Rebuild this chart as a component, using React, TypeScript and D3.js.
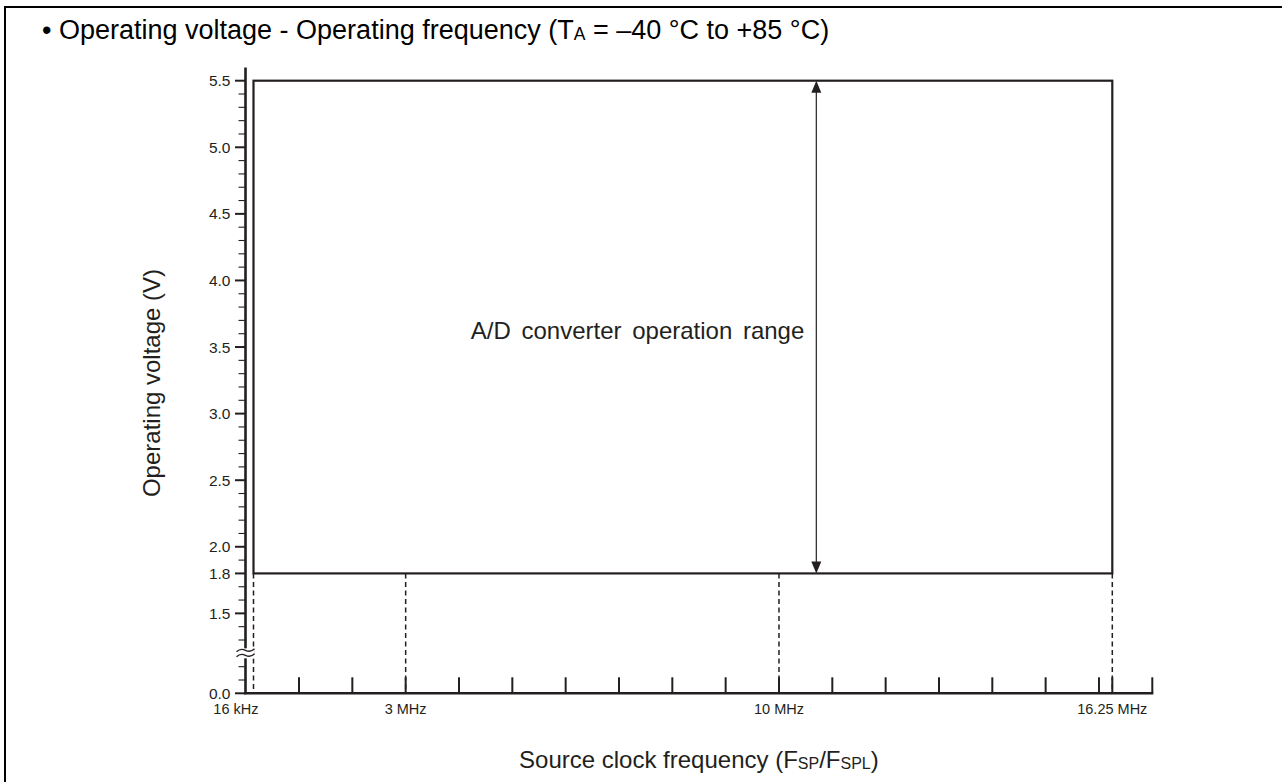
import React from "react";
import * as d3 from "d3";

// ---- data ----
const yMajorTicks = [0.0, 1.5, 1.8, 2.0, 2.5, 3.0, 3.5, 4.0, 4.5, 5.0, 5.5];
const yMinorTicks = [0.1, 0.2, 1.3, 1.4, 1.6, 1.7, 1.9, 2.1, 2.2, 2.3, 2.4, 2.6, 2.7, 2.8, 2.9, 3.1, 3.2, 3.3, 3.4, 3.6, 3.7, 3.8, 3.9, 4.1, 4.2, 4.3, 4.4, 4.6, 4.7, 4.8, 4.9, 5.1, 5.2, 5.3, 5.4];
const xTickValues = [1, 2, 3, 4, 5, 6, 7, 8, 9, 10, 11, 12, 13, 14, 15, 16, 16.25, 17];
const xLabelValues = [0.016, 3, 10, 16.25];
const xLabelTexts = ["16 kHz", "3 MHz", "10 MHz", "16.25 MHz"];
const dashedFreqs = [0.016, 3, 10, 16.25];
const rangeFreqMin = 0.016;
const rangeFreqMax = 16.25;
const rangeVoltMin = 1.8;
const rangeVoltMax = 5.5;
const arrowFreq = 10.7;
const rangeLabelVolt = 3.62;
const yAxisTopValue = 5.6;
const xAxisEndValue = 17;

const INK = "#231f20";
const FONT = "'Liberation Sans', Arial, Helvetica, sans-serif";

export default function App() {
  // broken (piecewise) scales
  const y = d3.scaleLinear().domain([0, 0.2, 1.3, 5.5]).range([693.3, 666.7, 640, 80.7]);
  const x = d3.scaleLinear().domain([0, 0.016, 1, 17]).range([245.5, 253.5, 299, 1152.3]);

  const x0 = x(0);
  const y0 = y(0);
  const breakY = (y(0.2) + y(1.3)) / 2;

  const ax = x(arrowFreq);
  const aTop = y(rangeVoltMax);
  const aBot = y(rangeVoltMin);
  const ah = 12;
  const aw = 5;

  const wave = (yy: number) => `M${x0 - 9},${yy + 1.5} q4,-4 9,-1.5 t9,-1.5`;

  return (
    <svg width={1282} height={782} style={{ position: "absolute", left: 0, top: 0, display: "block", background: "#fff" }}>
      {/* outer frame */}
      <path d="M5,782 V7 H1282" fill="none" stroke="#000" strokeWidth={2} />

      {/* title */}
      <text x={42} y={39} fontFamily={FONT} fontSize={27} fill="#000">
        <tspan>• Operating voltage - Operating frequency (T</tspan>
        <tspan fontSize={17.5} dy={1}>A</tspan>
        <tspan dy={-1}> = –40 °C to +85 °C)</tspan>
      </text>

      {/* dashed verticals */}
      {dashedFreqs.map((f, i) => (
        <line key={"d" + i} x1={x(f)} x2={x(f)} y1={y(rangeVoltMin)} y2={y0}
          stroke={INK} strokeWidth={1.5} strokeDasharray="5,3.5" />
      ))}

      {/* operating range box */}
      <rect x={x(rangeFreqMin)} y={y(rangeVoltMax)} width={x(rangeFreqMax) - x(rangeFreqMin)}
        height={y(rangeVoltMin) - y(rangeVoltMax)} fill="none" stroke={INK} strokeWidth={2.2} />

      {/* y axis */}
      <line x1={x0} x2={x0} y1={y(yAxisTopValue)} y2={y0 + 1} stroke={INK} strokeWidth={2.6} />
      {yMinorTicks.map((v, i) => (
        <line key={"ym" + i} x1={x0 - 7} x2={x0} y1={y(v)} y2={y(v)} stroke={INK} strokeWidth={1.1} />
      ))}
      {yMajorTicks.map((v, i) => (
        <g key={"yM" + i}>
          <line x1={x0 - 10.5} x2={x0} y1={y(v)} y2={y(v)} stroke={INK} strokeWidth={2} />
          <text x={x0 - 15} y={y(v)} dy="0.36em" textAnchor="end" fontFamily={FONT} fontSize={15.5} fill={INK}>
            {v.toFixed(1)}
          </text>
        </g>
      ))}

      {/* axis break */}
      <rect x={x0 - 10} y={breakY - 5} width={19} height={10} fill="#fff" />
      <path d={wave(breakY - 3)} fill="none" stroke={INK} strokeWidth={1.4} />
      <path d={wave(breakY + 2)} fill="none" stroke={INK} strokeWidth={1.4} />

      {/* x axis */}
      <line x1={x0 - 1.3} x2={x(xAxisEndValue) + 1} y1={y0} y2={y0} stroke={INK} strokeWidth={2.6} />
      {xTickValues.map((f, i) => (
        <line key={"xt" + i} x1={x(f)} x2={x(f)} y1={y0} y2={y0 - 16} stroke={INK} strokeWidth={2} />
      ))}
      {xLabelValues.map((f, i) => (
        <text key={"xl" + i} x={i === 0 ? x(f) + 5 : x(f)} y={y0 + 21}
          textAnchor={i === 0 ? "end" : "middle"} fontFamily={FONT} fontSize={14.5} fill={INK}>
          {xLabelTexts[i]}
        </text>
      ))}

      {/* double arrow */}
      <line x1={ax} x2={ax} y1={aTop + ah - 1} y2={aBot - ah + 1} stroke={INK} strokeWidth={1.2} />
      <polygon points={`${ax},${aTop} ${ax - aw},${aTop + ah} ${ax + aw},${aTop + ah}`} fill={INK} />
      <polygon points={`${ax},${aBot} ${ax - aw},${aBot - ah} ${ax + aw},${aBot - ah}`} fill={INK} />

      {/* range label */}
      <text x={ax - 12} y={y(rangeLabelVolt)} dy="0.35em" textAnchor="end" fontFamily={FONT} fontSize={24} fill={INK} wordSpacing={4}>
        A/D converter operation range
      </text>

      {/* axis titles */}
      <text transform={`translate(${152},${(y(5.5) + y0) / 2 - 4}) rotate(-90)`} dy="0.35em" textAnchor="middle"
        fontFamily={FONT} fontSize={24} fill={INK}>
        Operating voltage (V)
      </text>
      <text x={(x0 + x(xAxisEndValue)) / 2} y={768} textAnchor="middle" fontFamily={FONT} fontSize={24} fill={INK}>
        <tspan>Source clock frequency (F</tspan>
        <tspan fontSize={16} dy={1}>SP</tspan>
        <tspan dy={-1}>/F</tspan>
        <tspan fontSize={16} dy={1}>SPL</tspan>
        <tspan dy={-1}>)</tspan>
      </text>
    </svg>
  );
}
